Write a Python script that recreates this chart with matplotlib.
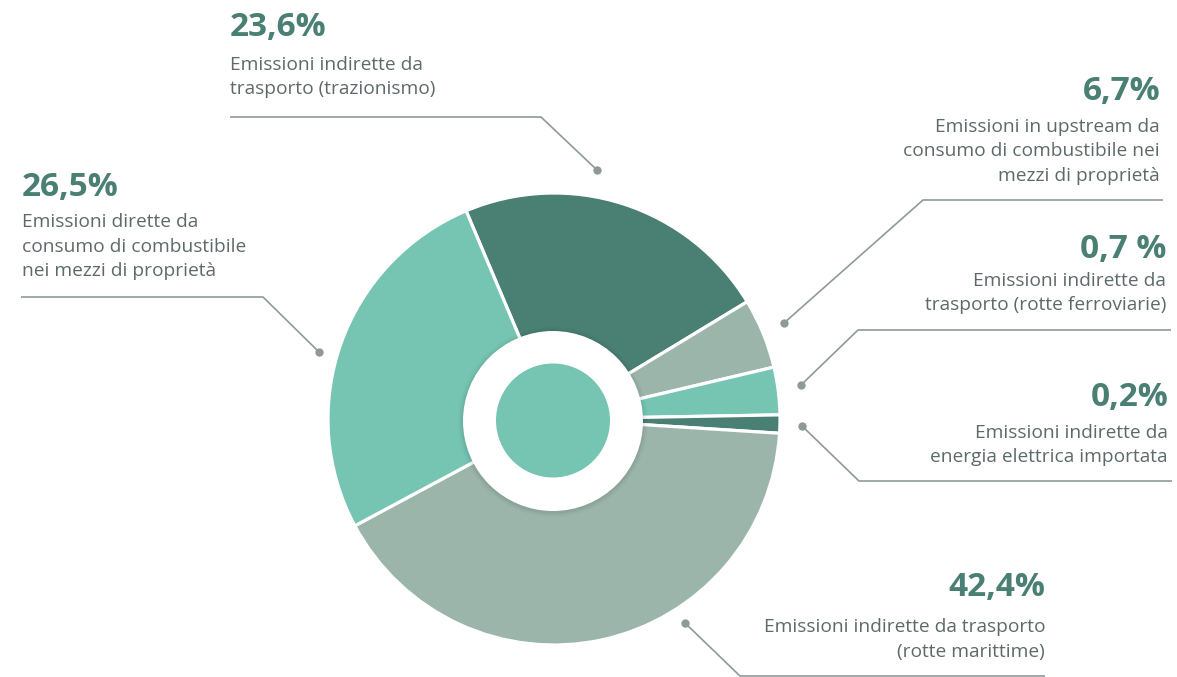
import matplotlib
matplotlib.use("Agg")
import matplotlib.pyplot as plt
from matplotlib.patches import Circle

plt.rcParams['font.family'] = ['Open Sans', 'DejaVu Sans']

W, H = 1177, 677

# slice sizes as drawn (clockwise from the top-left boundary)
categories = ["trazionismo", "upstream", "ferroviarie", "energia", "marittime", "dirette"]
shares = [22.7, 5.0, 3.4, 1.3, 41.2, 26.5]
pct_labels = ["23,6%", "6,7%", "0,7 %", "0,2%", "42,4%", "26,5%"]
descriptions = [
    "Emissioni indirette da\ntrasporto (trazionismo)",
    "Emissioni in upstream da\nconsumo di combustibile nei\nmezzi di proprietà",
    "Emissioni indirette da\ntrasporto (rotte ferroviarie)",
    "Emissioni indirette da\nenergia elettrica importata",
    "Emissioni indirette da trasporto\n(rotte marittime)",
    "Emissioni dirette da\nconsumo di combustibile\nnei mezzi di proprietà",
]

DARK = "#4a7f74"
GREY = "#9bb5ab"
TEAL = "#76c4b2"
slice_colors = [DARK, GREY, TEAL, DARK, GREY, TEAL]
TEXT = "#5e6a6a"
LINE = "#8e9a9a"

# label layout: (x, number y, first text line y, alignment)
layout = {
    "trazionismo": (230, 28, 65, "left"),
    "dirette": (22, 187, 222, "left"),
    "upstream": (1160, 92, 127, "right"),
    "ferroviarie": (1166, 250, 281, "right"),
    "energia": (1168, 398, 433, "right"),
    "marittime": (1045, 587, 627, "right"),
}
# leader lines: dot -> elbow -> end
leaders = {
    "trazionismo": [(597, 170), (541, 117), (230, 117)],
    "dirette": [(319, 352), (263, 297), (21, 297)],
    "upstream": [(784, 323), (923, 200), (1163, 200)],
    "ferroviarie": [(801, 385), (858, 330), (1171, 330)],
    "energia": [(802, 426), (859, 481), (1172, 481)],
    "marittime": [(685, 623), (740, 676), (1045, 676)],
}

fig = plt.figure(figsize=(W / 100, H / 100), dpi=100)
ax = fig.add_axes([0, 0, 1, 1])

# y axis is inverted below, so counterclock=True runs clockwise on screen
ax.pie(shares, colors=slice_colors, center=(554, 419), radius=226,
       startangle=-112.9, counterclock=True,
       wedgeprops=dict(edgecolor="white", linewidth=2.3), frame=True)
ax.set_xlim(0, W)
ax.set_ylim(H, 0)
ax.set_aspect("equal")
ax.axis("off")

# soft shadow + white ring + teal core
for k, a in [(5, 0.02), (3, 0.03), (1.5, 0.04)]:
    ax.add_patch(Circle((553, 422), 90 + k, color="black", alpha=a, lw=0, zorder=3))
ax.add_patch(Circle((553, 421), 90, color="white", lw=0, zorder=4))
ax.add_patch(Circle((553, 420.5), 57, color=TEAL, lw=0, zorder=5))

for name, pct, desc in zip(categories, pct_labels, descriptions):
    x, ny, ty, ha = layout[name]
    ax.text(x, ny, pct, ha=ha, va="center", fontsize=24, fontweight="bold", color=DARK)
    for i, line in enumerate(desc.split("\n")):
        ax.text(x, ty + i * 24.5, line, ha=ha, va="center", fontsize=13.8, color=TEXT)
    pts = leaders[name]
    ax.plot([p[0] for p in pts], [p[1] for p in pts], color=LINE, lw=1.2,
            solid_capstyle="butt", zorder=2)
    ax.plot(*pts[0], marker="o", ms=6, color=LINE, mec="none", zorder=2)

fig.savefig("out.png", dpi=100, facecolor="white")
